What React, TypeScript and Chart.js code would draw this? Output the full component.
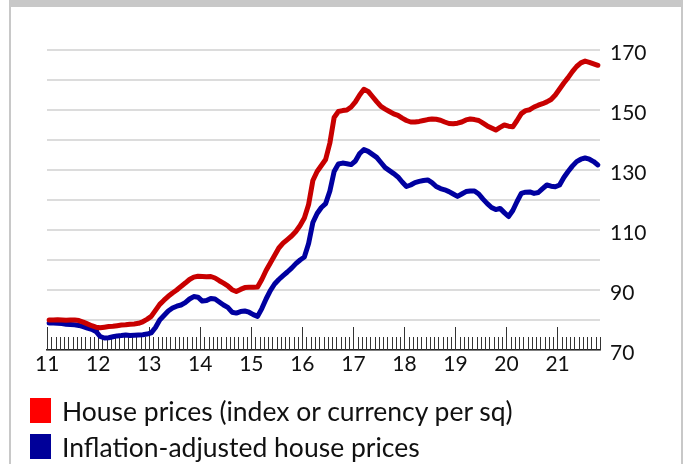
import React, { useEffect, useRef } from 'react';
import { Chart, registerables } from 'chart.js';

Chart.register(...registerables);

const START_YEAR = 2011;
const YEAR_LABELS = ['11', '12', '13', '14', '15', '16', '17', '18', '19', '20', '21'];
const Y_TICK_LABELS = [70, 90, 110, 130, 150, 170];
const SERIES_NAMES = ['House prices (index or currency per sq)', 'Inflation-adjusted house prices'];

const HOUSE_PRICES = [
  80.0, 80.0, 80.1, 80.0, 79.9, 80.0, 80.0, 79.8, 79.3, 78.7, 78.1, 77.6,
  77.4, 77.6, 77.8, 77.9, 78.1, 78.3, 78.4, 78.6, 78.7, 78.9, 79.4, 80.2,
  81.2, 83.2, 85.2, 86.6, 87.9, 89.0, 90.0, 91.2, 92.3, 93.5, 94.3, 94.6,
  94.5, 94.4, 94.5, 94.0, 93.1, 92.3, 91.4, 90.1, 89.5, 90.2, 90.8, 90.9,
  90.9, 91.0, 93.5, 96.5, 99.0, 101.5, 104.0, 105.6, 106.8, 108.0, 109.5, 111.5,
  114.0, 118.5, 126.5, 129.5, 131.5, 133.5, 139.0, 147.5, 149.5, 149.8, 150.0, 151.0,
  152.7, 155.0, 156.9, 156.2, 154.5, 152.8, 151.2, 150.3, 149.5, 148.7, 148.2, 147.3,
  146.5, 146.0, 146.0, 146.2, 146.5, 146.8, 147.0, 146.9, 146.6, 146.0, 145.5, 145.4,
  145.6, 146.0, 146.7, 147.0, 146.8, 146.5, 145.6, 144.7, 144.0, 143.3, 144.2, 145.0,
  144.6, 144.4, 146.5, 148.8, 149.8, 150.1, 151.0, 151.6, 152.1, 152.7, 153.5, 155.0,
  157.0, 159.0, 160.8, 162.8, 164.5, 165.7, 166.3, 165.9, 165.4, 164.9,
];

const REAL_HOUSE_PRICES = [
  79.0, 79.0, 78.9, 78.8, 78.6, 78.5, 78.4, 78.2, 77.8, 77.3, 76.9, 76.2,
  74.5, 74.0, 74.1, 74.4, 74.7, 74.8, 75.0, 74.8, 74.9, 75.0, 75.1, 75.3,
  75.7, 77.5, 80.0, 81.5, 83.0, 84.0, 84.6, 85.0, 85.8, 87.0, 87.8, 87.6,
  86.3, 86.5, 87.2, 87.0, 86.0, 85.0, 84.2, 82.6, 82.3, 82.8, 83.0, 82.6,
  81.8, 81.2, 83.8, 87.0, 89.8, 92.0, 93.5, 94.8, 96.0, 97.3, 98.8, 100.0,
  101.0, 105.5, 112.5, 115.5, 117.5, 118.8, 123.0, 129.5, 132.0, 132.3, 132.1, 131.8,
  133.0, 135.5, 136.8, 136.2, 135.2, 134.2, 132.5, 130.8, 129.8, 128.8, 127.7, 126.0,
  124.5, 125.0, 125.8, 126.2, 126.5, 126.7, 125.8, 124.5, 123.8, 123.4, 122.8, 122.0,
  121.2, 122.0, 122.8, 123.0, 123.0, 122.0, 120.3, 118.8, 117.5, 116.8, 117.2, 115.8,
  114.5, 116.5, 119.5, 122.2, 122.6, 122.7, 122.2, 122.5, 123.8, 125.0, 124.6, 124.4,
  125.0, 127.5, 129.5, 131.3, 132.8, 133.6, 134.0, 133.6, 132.8, 131.7,
];

const MONTHS = HOUSE_PRICES.map(
  (_, i) => `${START_YEAR + Math.floor(i / 12)}-${String((i % 12) + 1).padStart(2, '0')}`
);

const FONT = 'Lato, "Open Sans", sans-serif';

const monthTicks = {
  id: 'monthTicks',
  beforeDatasetsDraw(chart: any) {
    const xs = chart.scales.x;
    const { ctx, chartArea } = chart;
    const n = chart.data.labels.length;
    const step = xs.getPixelForValue(1) - xs.getPixelForValue(0);
    ctx.save();
    ctx.strokeStyle = '#333';
    ctx.lineWidth = 1;
    for (let i = 0; i <= n; i++) {
      const px = Math.round(xs.getPixelForValue(i) - step / 2) + 0.5;
      const len = i % 12 === 0 ? 23 : 13;
      ctx.beginPath();
      ctx.moveTo(px, chartArea.bottom);
      ctx.lineTo(px, chartArea.bottom - len);
      ctx.stroke();
    }
    ctx.restore();
  },
};

export default function App() {
  const ref = useRef<HTMLCanvasElement | null>(null);

  useEffect(() => {
    let chart: Chart | null = null;
    let cancelled = false;
    const make = () => {
      if (cancelled || !ref.current) return;
      chart = new Chart(ref.current, {
        type: 'line',
        data: {
          labels: MONTHS,
          datasets: [
            {
              label: SERIES_NAMES[0],
              data: HOUSE_PRICES,
              borderColor: '#c80000',
              backgroundColor: '#ff0000',
              borderWidth: 5,
              pointRadius: 0,
              borderJoinStyle: 'round',
              borderCapStyle: 'round',
              tension: 0,
            },
            {
              label: SERIES_NAMES[1],
              data: REAL_HOUSE_PRICES,
              borderColor: '#0000a0',
              backgroundColor: '#000099',
              borderWidth: 5,
              pointRadius: 0,
              borderJoinStyle: 'round',
              borderCapStyle: 'round',
              tension: 0,
            },
          ],
        },
        options: {
          responsive: false,
          animation: false,
          devicePixelRatio: 1,
          layout: { padding: { left: 47, top: 50, right: 0, bottom: 0 } },
          plugins: { legend: { display: false }, tooltip: { enabled: false } },
          scales: {
            x: {
              type: 'category',
              offset: true,
              grid: { display: false, offset: true },
              border: { display: true, color: '#222', width: 1.5 },
              ticks: {
                autoSkip: false,
                maxRotation: 0,
                minRotation: 0,
                padding: -6,
                labelOffset: -2,
                color: '#111',
                font: { family: FONT, size: 21 },
                callback: (_v: any, idx: number) => (idx % 12 === 0 ? YEAR_LABELS[idx / 12] : ''),
              },
              afterFit: (s: any) => {
                s.height = 114;
              },
            },
            y: {
              position: 'right',
              min: 70,
              max: 170,
              grid: { color: '#dcdcdc', lineWidth: 2, drawTicks: false },
              border: { display: false },
              ticks: {
                stepSize: 10,
                padding: 10,
                labelOffset: 3,
                color: '#111',
                font: { family: FONT, size: 21 },
                callback: (v: any) => (Y_TICK_LABELS.includes(Number(v)) ? String(v) : ''),
              },
              afterFit: (s: any) => {
                s.width = 87;
              },
            },
          },
        },
        plugins: [monthTicks],
      });
    };
    if ((document as any).fonts && (document as any).fonts.load) {
      (document as any).fonts.load('21px Lato').then(make, make);
    } else {
      make();
    }
    return () => {
      cancelled = true;
      if (chart) chart.destroy();
    };
  }, []);

  const legendColors = ['#ff0000', '#000099'];
  const squareTops = [398, 434];
  const textTops = [394.5, 430.5];

  return (
    <div style={{ position: 'absolute', left: 0, top: 0, width: 687, height: 464, background: '#fff', overflow: 'hidden' }}>
      <div
        style={{
          position: 'absolute',
          left: 9,
          top: 0,
          width: 674,
          height: 464,
          boxSizing: 'border-box',
          borderLeft: '2px solid #c8c8c8',
          borderRight: '2px solid #c8c8c8',
          borderTop: '7px solid #c8c8c8',
        }}
      />
      <canvas ref={ref} width={687} height={464} style={{ position: 'absolute', left: 0, top: 0 }} />
      {SERIES_NAMES.map((name, i) => (
        <div key={name}>
          <div
            style={{
              position: 'absolute',
              left: 30,
              top: squareTops[i],
              width: 21,
              height: 25,
              background: legendColors[i],
            }}
          />
          <div
            style={{
              position: 'absolute',
              left: 62,
              top: textTops[i],
              fontFamily: FONT,
              fontSize: 26.5,
              lineHeight: 'normal',
              color: '#111',
              whiteSpace: 'nowrap',
            }}
          >
            {name}
          </div>
        </div>
      ))}
    </div>
  );
}
